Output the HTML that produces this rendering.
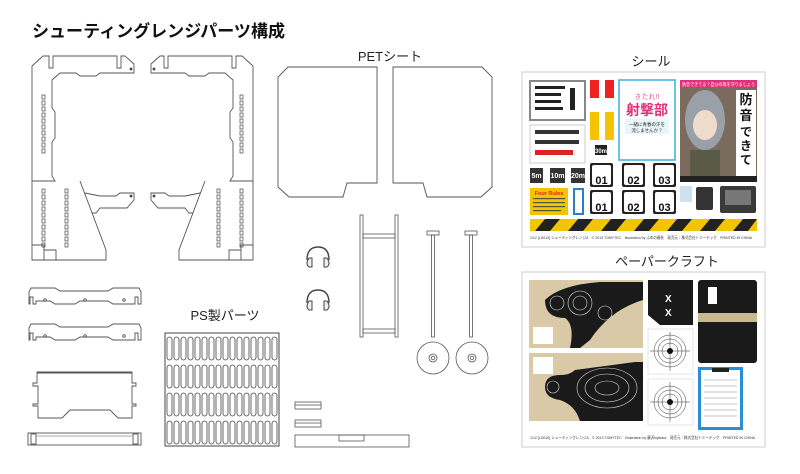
<!DOCTYPE html>
<html><head><meta charset="utf-8"><style>
html,body{margin:0;padding:0;background:#fff;}
svg{display:block;}
text{font-family:"Liberation Sans","Noto Sans CJK JP",sans-serif;}
</style></head><body>
<svg width="800" height="474" viewBox="0 0 800 474" xmlns="http://www.w3.org/2000/svg">
<defs>
<g id="holes">
<rect x="0" y="0" width="3" height="4" fill="none" stroke="#444" stroke-width="0.7"/>
<rect x="0" y="6" width="3" height="4" fill="none" stroke="#444" stroke-width="0.7"/>
<rect x="0" y="12" width="3" height="4" fill="none" stroke="#444" stroke-width="0.7"/>
<rect x="0" y="18" width="3" height="4" fill="none" stroke="#444" stroke-width="0.7"/>
<rect x="0" y="24" width="3" height="4" fill="none" stroke="#444" stroke-width="0.7"/>
<rect x="0" y="30" width="3" height="4" fill="none" stroke="#444" stroke-width="0.7"/>
<rect x="0" y="36" width="3" height="4" fill="none" stroke="#444" stroke-width="0.7"/>
<rect x="0" y="42" width="3" height="4" fill="none" stroke="#444" stroke-width="0.7"/>
<rect x="0" y="48" width="3" height="4" fill="none" stroke="#444" stroke-width="0.7"/>
<rect x="0" y="54" width="3" height="4" fill="none" stroke="#444" stroke-width="0.7"/>
</g>
<g id="frame" fill="none" stroke="#555" stroke-width="0.9">
<path d="M32,66 L43,56 L49,56 L49,68 L53,68 L53,56 L117,56 L117,68 L121,68 L121,56 L125,56 L134,64 L134,73 L100,73 L96,76 L80,76 L76,73 L60,73 L52,80 L52,108 L55,112 L55,138 L52,142 L52,176 L55,181 L32,181 Z"/>
<path d="M32,181 L32,260 L106,260 L106,250 L80,181"/>
<path d="M32,245 L44,245 L44,260 M44,250 L56,250 L56,260"/>
<path d="M85,193 L100,196 L116,196 L120,193 L134,193 L134,200 L127,208 L100,208 L96,213 L92,213"/>
<circle cx="131" cy="69" r="1" fill="#222"/>
<circle cx="131" cy="196" r="1" fill="#222"/>
<use href="#holes" x="42" y="95"/>
<use href="#holes" x="42" y="189"/>
<use href="#holes" x="65" y="189"/>
</g>
<g id="rail" fill="none" stroke="#555" stroke-width="0.9">
<path d="M29,292 L31,288 L55,288 L60,291 L108,291 L113,288 L139,288 L141,292 L141,304 L138,304 L138,297 L135,297 L135,304 L113,304 L108,301 L80,301 L75,304 L55,304 L50,301 L36,301 L36,304 L33,304 L33,297 L30,297 L30,304 L29,304 Z"/>
<circle cx="45" cy="300" r="1.3"/><circle cx="85" cy="300" r="1.3"/><circle cx="124" cy="300" r="1.3"/>
</g>
<g id="hp" fill="none" stroke="#444" stroke-width="1">
<path d="M-11,11 Q-11,-2 0,-2 Q11,-2 11,11" stroke-width="1.4"/>
<path d="M-9,9 L-6,9 L-6,18 L-9,18 Q-13,15 -9,9 Z" fill="#eee"/>
<path d="M9,9 L6,9 L6,18 L9,18 Q13,15 9,9 Z" fill="#eee"/>
</g>
<g id="nobox"><rect x="0" y="0" width="23" height="24" rx="2" fill="#222"/><rect x="2" y="2" width="19" height="20" rx="2" fill="#fff"/></g>
</defs>

<text x="32" y="37" font-size="17" font-weight="bold" fill="#111" textLength="253" lengthAdjust="spacingAndGlyphs">シューティングレンジパーツ構成</text>

<use href="#frame"/>
<g transform="translate(285,0) scale(-1,1)"><use href="#frame"/></g>

<use href="#rail"/>
<use href="#rail" y="36"/>

<g fill="none" stroke="#555" stroke-width="0.9">
<path d="M37,372 L132,372 L132,383 L136,383 L136,386 L132,386 L132,404 L136,404 L136,406 L132,406 L132,418 L118,418 L110,410 L70,410 L62,418 L38,418 L38,406 L33,406 L33,404 L38,404 L38,386 L33,386 L33,383 L37,383 Z"/>
<line x1="37" y1="373" x2="132" y2="373"/>
<rect x="28" y="433" width="113" height="12"/>
<rect x="31" y="434" width="5" height="10"/><rect x="133" y="434" width="5" height="10"/>
<line x1="36" y1="436" x2="133" y2="436" stroke="#aaa"/>
</g>

<text x="225" y="320" font-size="13" text-anchor="middle" fill="#222">PS製パーツ</text>
<rect x="165" y="333" width="114" height="113" fill="none" stroke="#444" stroke-width="1"/>
<g fill="none" stroke="#444" stroke-width="0.8" id="ovals">
<rect x="167" y="337" width="5" height="23" rx="2.5"/><rect x="174" y="337" width="5" height="23" rx="2.5"/><rect x="181" y="337" width="5" height="23" rx="2.5"/><rect x="188" y="337" width="5" height="23" rx="2.5"/><rect x="195" y="337" width="5" height="23" rx="2.5"/><rect x="202" y="337" width="5" height="23" rx="2.5"/><rect x="209" y="337" width="5" height="23" rx="2.5"/><rect x="216" y="337" width="5" height="23" rx="2.5"/><rect x="223" y="337" width="5" height="23" rx="2.5"/><rect x="230" y="337" width="5" height="23" rx="2.5"/><rect x="237" y="337" width="5" height="23" rx="2.5"/><rect x="244" y="337" width="5" height="23" rx="2.5"/><rect x="251" y="337" width="5" height="23" rx="2.5"/><rect x="258" y="337" width="5" height="23" rx="2.5"/><rect x="265" y="337" width="5" height="23" rx="2.5"/><rect x="272" y="337" width="5" height="23" rx="2.5"/>
</g>
<use href="#ovals" y="28"/><use href="#ovals" y="56"/><use href="#ovals" y="84"/>

<text x="390" y="61" font-size="13" text-anchor="middle" fill="#222">PETシート</text>
<g fill="none" stroke="#555" stroke-width="0.9">
<path d="M288,67 L377,67 L377,183 L347,183 L343,197 L289,197 L278,187 L278,77 Z"/>
<path d="M482,67 L393,67 L393,183 L423,183 L427,197 L481,197 L492,187 L492,77 Z"/>
</g>

<use href="#hp" x="318" y="249"/>
<use href="#hp" x="318" y="292"/>

<g fill="none" stroke="#555" stroke-width="0.8">
<rect x="360" y="215" width="3" height="122"/><rect x="395" y="215" width="3" height="122"/>
<rect x="363" y="234" width="32" height="4"/><rect x="363" y="329" width="32" height="4"/>
<rect x="427" y="231" width="12" height="4"/><rect x="431.5" y="235" width="3" height="102"/>
<rect x="465" y="231" width="12" height="4"/><rect x="469.5" y="235" width="3" height="102"/>
<circle cx="433" cy="358" r="16"/><circle cx="433" cy="358" r="4"/><circle cx="433" cy="358" r="1.8"/>
<circle cx="472" cy="358" r="16"/><circle cx="472" cy="358" r="4"/><circle cx="472" cy="358" r="1.8"/>
<rect x="295" y="402" width="26" height="7"/><line x1="295" y1="405" x2="321" y2="405"/>
<rect x="295" y="420" width="26" height="7"/><line x1="295" y1="423" x2="321" y2="423"/>
<rect x="295" y="435" width="114" height="12"/>
<rect x="339" y="435" width="25" height="6"/>
</g>

<!-- Seal sheet -->
<text x="651" y="66" font-size="13" text-anchor="middle" fill="#222">シール</text>
<rect x="522" y="72" width="243" height="175" fill="#fff" stroke="#ccc" stroke-width="1"/>
<rect x="530" y="81" width="55" height="39" fill="#fff" stroke="#888" stroke-width="2"/>
<g fill="#222"><rect x="535" y="86" width="30" height="3"/><rect x="535" y="93" width="26" height="3"/><rect x="535" y="100" width="26" height="3"/><rect x="535" y="107" width="28" height="3"/><rect x="570" y="88" width="5" height="22"/></g>
<rect x="530" y="125" width="55" height="38" fill="#fff" stroke="#ccc"/>
<g fill="#333"><rect x="535" y="130" width="44" height="4"/><rect x="535" y="140" width="44" height="4"/></g><rect x="535" y="150" width="38" height="5" fill="#d22"/>
<rect x="590" y="80" width="9" height="18" fill="#e22"/><rect x="605" y="80" width="9" height="18" fill="#e22"/>
<rect x="590" y="112" width="9" height="28" fill="#f5c400"/><rect x="605" y="112" width="9" height="28" fill="#f5c400"/>
<rect x="595" y="145" width="12" height="10" fill="#222"/><text x="601" y="153" font-size="6" fill="#fff" text-anchor="middle" font-weight="bold">30m</text>
<rect x="619" y="80" width="56" height="80" fill="#fff" stroke="#3ab0e0" stroke-width="1.5"/>
<text x="647" y="99" font-size="7" fill="#e05a9a" text-anchor="middle">きたれ!!</text>
<text x="647" y="115" font-size="14" fill="#e0307a" text-anchor="middle" font-weight="bold">射撃部</text>
<rect x="625" y="119" width="44" height="15" fill="#e8f6fb"/>
<text x="647" y="126" font-size="4.5" fill="#222" text-anchor="middle">一緒に青春の汗を</text>
<text x="647" y="132" font-size="4.5" fill="#222" text-anchor="middle">流しませんか？</text>
<rect x="680" y="80" width="77" height="102" fill="#7a6b5e"/>
<rect x="680" y="80" width="77" height="7" fill="#e0307a"/>
<text x="682" y="86" font-size="4.5" fill="#fff" textLength="73" lengthAdjust="spacingAndGlyphs">防音できてる？自分の耳を守りましょう</text>
<ellipse cx="705" cy="120" rx="20" ry="30" fill="#9aa0a8"/>
<ellipse cx="705" cy="125" rx="12" ry="15" fill="#f0dccc"/>
<rect x="690" y="150" width="30" height="28" fill="#5a5a48"/>
<rect x="736" y="90" width="20" height="86" fill="#fff"/>
<text x="746" y="104" font-size="13" font-weight="bold" text-anchor="middle" fill="#111">防</text>
<text x="746" y="120" font-size="13" font-weight="bold" text-anchor="middle" fill="#111">音</text>
<text x="746" y="136" font-size="12" font-weight="bold" text-anchor="middle" fill="#111">で</text>
<text x="746" y="150" font-size="12" font-weight="bold" text-anchor="middle" fill="#111">き</text>
<text x="746" y="164" font-size="12" font-weight="bold" text-anchor="middle" fill="#111">て</text>
<rect x="680" y="176" width="77" height="6" fill="#222"/>
<g font-size="7" font-weight="bold" fill="#fff" text-anchor="middle">
<rect x="530" y="168" width="13" height="15" fill="#333"/><text x="536.5" y="178">5m</text>
<rect x="550" y="168" width="15" height="15" fill="#333"/><text x="557.5" y="178">10m</text>
<rect x="571" y="168" width="14" height="15" fill="#333"/><text x="578" y="178">20m</text>
</g>
<g font-size="11" font-weight="bold" fill="#111" text-anchor="middle">
<use href="#nobox" x="590" y="163"/><text x="601.5" y="184">01</text>
<use href="#nobox" x="622" y="163"/><text x="633.5" y="184">02</text>
<use href="#nobox" x="653" y="163"/><text x="664.5" y="184">03</text>
<use href="#nobox" x="590" y="190"/><text x="601.5" y="211">01</text>
<use href="#nobox" x="622" y="190"/><text x="633.5" y="211">02</text>
<use href="#nobox" x="653" y="190"/><text x="664.5" y="211">03</text>
</g>
<rect x="530" y="188" width="38" height="27" fill="#f5c400"/>
<text x="549" y="195" font-size="5.5" font-weight="bold" fill="#d22" text-anchor="middle">Four Rules</text>
<g fill="#553"><rect x="533" y="198" width="32" height="1.2"/><rect x="533" y="202" width="32" height="1.2"/><rect x="533" y="206" width="32" height="1.2"/><rect x="533" y="210" width="28" height="1.2"/></g>
<rect x="573" y="188" width="11" height="27" fill="#2a7fc4"/><rect x="575" y="190" width="7" height="23" fill="#fff"/>
<rect x="680" y="186" width="12" height="16" fill="#cfe0ee"/>
<rect x="696" y="187" width="17" height="23" rx="2" fill="#333"/>
<rect x="720" y="186" width="36" height="27" rx="2" fill="#3a3a3a"/><rect x="725" y="190" width="26" height="15" fill="#777"/>
<rect x="530" y="219" width="227" height="12" fill="#f5c400"/>
<g fill="#222"><path d="M535,231 L545,219 L560,219 L550,231Z"/><path d="M568,231 L578,219 L593,219 L583,231Z"/><path d="M601,231 L611,219 L626,219 L616,231Z"/><path d="M634,231 L644,219 L659,219 L649,231Z"/><path d="M667,231 L677,219 L692,219 L682,231Z"/><path d="M700,231 L710,219 L725,219 L715,231Z"/><path d="M733,231 L743,219 L757,219 L748,231Z"/></g>
<text x="530" y="239" font-size="4" fill="#333" textLength="222" lengthAdjust="spacingAndGlyphs">1/12 [LD010] シューティングレンジA　© 2013 TOMYTEC　Illustration by ふゆの春秋　発売元：株式会社トミーテック　PRINTED IN CHINA</text>

<!-- Papercraft sheet -->
<text x="667" y="266" font-size="13" text-anchor="middle" fill="#222">ペーパークラフト</text>
<rect x="522" y="272" width="243" height="175" fill="#fff" stroke="#ccc" stroke-width="1"/>
<rect x="529" y="280" width="114" height="68" fill="#d9c9a6"/>
<path d="M545,300 Q560,285 600,282 L643,282 L643,300 Q610,310 590,340 L580,348 L570,348 Q575,325 565,318 Q545,318 545,300Z" fill="#1a1a1a"/>
<g fill="none" stroke="#ddd" stroke-width="0.6"><circle cx="557" cy="303" r="7"/><circle cx="580" cy="303" r="12"/><circle cx="580" cy="303" r="7"/><circle cx="605" cy="313" r="7"/></g>
<rect x="533" y="327" width="20" height="17" fill="#fff"/>
<rect x="529" y="353" width="114" height="68" fill="#d9c9a6"/>
<path d="M575,370 L635,362 L643,362 L643,421 L580,421 Q575,405 560,400 Q545,398 545,387 Q545,375 560,375 Q570,375 575,370Z" fill="#1a1a1a"/>
<g fill="none" stroke="#ddd" stroke-width="0.6"><ellipse cx="607" cy="388" rx="30" ry="20"/><ellipse cx="607" cy="388" rx="22" ry="14"/><ellipse cx="607" cy="388" rx="12" ry="7"/><circle cx="553" cy="387" r="6"/></g>
<rect x="533" y="357" width="20" height="17" fill="#fff"/>
<path d="M648,280 L693,280 L693,325 L660,325 L648,315 Z" fill="#1a1a1a"/>
<text x="665" y="302" font-size="10" fill="#fff" font-weight="bold">X</text><text x="665" y="316" font-size="10" fill="#fff" font-weight="bold">X</text>
<g stroke="#ccc" stroke-width="0.5" fill="none">
<rect x="648" y="329" width="45" height="45"/><rect x="648" y="379" width="45" height="46"/>
</g>
<g fill="none" stroke="#333" stroke-width="0.5">
<circle cx="670" cy="351" r="16"/><circle cx="670" cy="351" r="12"/><circle cx="670" cy="351" r="8"/><line x1="650" y1="351" x2="690" y2="351"/><line x1="670" y1="332" x2="670" y2="371"/>
<circle cx="670" cy="402" r="16"/><circle cx="670" cy="402" r="12"/><circle cx="670" cy="402" r="8"/><line x1="650" y1="402" x2="690" y2="402"/><line x1="670" y1="382" x2="670" y2="422"/>
</g>
<circle cx="670" cy="351" r="3" fill="#111"/><circle cx="670" cy="402" r="3" fill="#111"/>
<rect x="698" y="280" width="59" height="83" rx="3" fill="#1a1a1a"/>
<rect x="698" y="313" width="59" height="9" fill="#c9b98f"/>
<rect x="708" y="287" width="9" height="17" fill="#fff"/>
<rect x="698" y="367" width="45" height="63" fill="#2a8fd8"/><rect x="701" y="370" width="39" height="57" fill="#fff"/>
<g stroke="#888" stroke-width="0.5"><line x1="704" y1="380" x2="737" y2="380"/><line x1="704" y1="386" x2="737" y2="386"/><line x1="704" y1="392" x2="737" y2="392"/><line x1="704" y1="398" x2="737" y2="398"/><line x1="704" y1="404" x2="737" y2="404"/><line x1="704" y1="410" x2="737" y2="410"/><line x1="704" y1="416" x2="737" y2="416"/></g>
<rect x="712" y="368" width="17" height="4" fill="#222"/>
<text x="530" y="439" font-size="4" fill="#333" textLength="225" lengthAdjust="spacingAndGlyphs">1/12 [LD010] シューティングレンジA　© 2013 TOMYTEC　Illustration by 藤沢fujiwara　発売元：株式会社トミーテック　PRINTED IN CHINA</text>
</svg>
</body></html>
